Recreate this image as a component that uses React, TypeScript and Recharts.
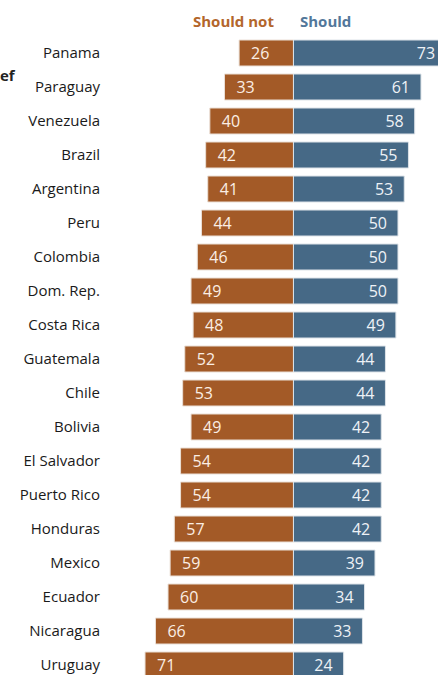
import React from 'react'
import { BarChart, Bar, XAxis, YAxis, LabelList } from 'recharts'

const countries = [
  'Panama', 'Paraguay', 'Venezuela', 'Brazil', 'Argentina', 'Peru', 'Colombia',
  'Dom. Rep.', 'Costa Rica', 'Guatemala', 'Chile', 'Bolivia', 'El Salvador',
  'Puerto Rico', 'Honduras', 'Mexico', 'Ecuador', 'Nicaragua', 'Uruguay',
]
const shouldNot = [26, 33, 40, 42, 41, 44, 46, 49, 48, 52, 53, 49, 54, 54, 57, 59, 60, 66, 71]
const should = [73, 61, 58, 55, 53, 50, 50, 50, 49, 44, 44, 42, 42, 42, 42, 39, 34, 33, 24]

const ORANGE = '#a35a27'
const BLUE = '#466986'
const FONT = '"Open Sans", "DejaVu Sans", sans-serif'

const data = countries.map((c, i) => ({
  country: c,
  shouldNot: -shouldNot[i],
  should: should[i],
}))

const leftLabel = (props: any) => {
  const { x, y, width, height, value } = props
  const left = Math.min(x, x + width)
  return (
    <text x={left + 12} y={y + height / 2 + 5.5} fill="#fbeee4" fontSize={16} fontFamily={FONT}>
      {Math.abs(value)}
    </text>
  )
}

const rightLabel = (props: any) => {
  const { x, y, width, height, value } = props
  const right = Math.max(x, x + width)
  return (
    <text x={right - 11} y={y + height / 2 + 5.5} fill="#eef2f6" fontSize={16} fontFamily={FONT} textAnchor="end">
      {value}
    </text>
  )
}

export default function App() {
  return (
    <div style={{ position: 'absolute', left: 0, top: 0, width: 438, height: 675, overflow: 'hidden', background: '#fff' }}>
      <div style={{ position: 'absolute', left: 0, top: 11, fontFamily: FONT, fontWeight: 700, fontSize: 15, whiteSpace: 'nowrap' }}>
        <span style={{ position: 'absolute', left: 193, top: 0, color: '#b3662c' }}>Should not</span>
        <span style={{ position: 'absolute', left: 300, top: 0, color: '#52779a' }}>Should</span>
      </div>
      <div style={{ position: 'absolute', left: 0, top: 65, fontFamily: FONT, fontWeight: 700, fontSize: 15, color: '#222' }}>
        ef
      </div>
      <div style={{ position: 'absolute', left: 0, top: 0 }}>
        <BarChart
          width={449}
          height={690}
          data={data}
          layout="vertical"
          stackOffset="sign"
          barSize={26}
          margin={{ top: 36, right: 0, bottom: 8, left: 0 }}
        >
          <XAxis type="number" domain={[-86.8, 74.4]} hide allowDataOverflow />
          <YAxis
            type="category"
            dataKey="country"
            width={112}
            axisLine={false}
            tickLine={false}
            tickSize={0}
            tickMargin={12}
            interval={0}
            tick={{ fill: '#1a1a1a', fontSize: 15, fontFamily: FONT }}
          />
          <Bar dataKey="shouldNot" stackId="a" fill={ORANGE} stroke="#eadfd6" strokeWidth={1} isAnimationActive={false}>
            <LabelList dataKey="shouldNot" content={leftLabel} />
          </Bar>
          <Bar dataKey="should" stackId="a" fill={BLUE} stroke="#dde3e8" strokeWidth={1} isAnimationActive={false}>
            <LabelList dataKey="should" content={rightLabel} />
          </Bar>
        </BarChart>
      </div>
    </div>
  )
}
